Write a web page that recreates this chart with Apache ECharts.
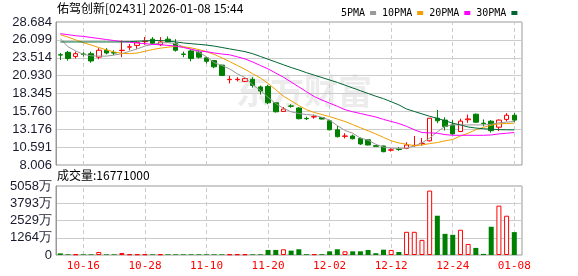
<!DOCTYPE html>
<html><head><meta charset="utf-8">
<script src="https://cdn.jsdelivr.net/npm/echarts@6/dist/echarts.min.js"></script>
<style>html,body{margin:0;padding:0;background:#fff}#c{width:578px;height:276px}</style>
</head><body><div id="c"></div>
<script>
const dates = ['10-13','10-14','10-15','10-16','10-17','10-20','10-21','10-22','10-23','10-24',
'10-27','10-28','10-30','10-31','11-03','11-04','11-05','11-06','11-07','11-10',
'11-11','11-12','11-13','11-14','11-17','11-18','11-19','11-20','11-21','11-24',
'11-25','11-26','11-27','11-28','12-01','12-02','12-03','12-04','12-05','12-08',
'12-09','12-10','12-11','12-12','12-15','12-16','12-17','12-18','12-19','12-22',
'12-23','12-24','12-29','12-30','12-31','01-02','01-05','01-06','01-07','01-08'];
const openP = [23.95,24.3,23.7,24.05,24.1,23.6,24.6,24.25,24.55,25.05,
25.3,25.85,26.2,25.4,26.2,25.6,24.05,24.5,24.3,23.5,
23.1,22.45,20.35,20.35,20.1,20.4,19.3,19.35,17.0,15.75,
16.55,16.25,14.75,14.95,14.86,14.4,13.1,12.15,12.2,11.85,
11.65,10.8,10.76,10.15,10.3,10.42,10.8,11.1,11.5,14.77,
14.5,13.8,12.85,14.55,15.35,14.05,14.34,13.47,14.6,15.2];
const closeP = [23.9,23.4,24.1,24.0,23.05,24.6,24.2,24.2,24.6,25.1,
25.7,25.9,25.6,25.8,25.8,24.6,24.0,23.4,23.6,23.0,
22.2,20.95,20.4,20.4,20.5,19.5,18.7,17.0,15.7,16.1,
16.5,14.7,14.7,15.0,14.65,13.1,12.1,12.2,11.8,11.05,
10.9,10.7,9.93,10.2,10.25,10.9,10.85,11.15,14.77,14.4,
13.56,12.5,14.35,14.67,14.2,14.0,12.97,14.5,15.2,14.5];
const lowP = [23.2,23.1,23.4,23.7,22.8,23.3,24.0,23.9,23.6,24.6,
24.8,25.4,25.4,25.2,25.7,24.4,23.6,23.0,23.4,22.7,
22.0,20.9,19.8,20.1,20.0,19.2,18.2,16.8,15.6,15.75,
16.3,14.6,14.5,14.7,14.6,13.0,12.0,11.85,11.7,10.9,
10.85,10.7,9.85,9.95,10.05,10.3,10.65,10.8,11.4,14.05,
13.0,12.4,12.8,14.1,14.1,13.6,12.7,12.9,14.3,14.2];
const highP = [24.2,24.5,24.4,24.3,24.4,24.9,24.9,24.6,26.0,25.5,
25.9,26.5,26.5,26.5,26.6,26.2,24.4,24.7,24.6,23.6,
23.2,22.5,20.9,20.7,20.6,20.7,19.5,19.6,17.0,16.4,
16.8,16.35,15.0,15.3,14.95,14.5,13.65,12.6,12.4,12.0,
11.7,10.8,10.8,10.45,10.6,11.3,12.2,11.9,14.8,15.97,
14.9,14.5,14.7,15.3,15.45,14.6,14.5,14.6,15.5,15.5];
// volume in 万
const volume = [120,50,50,50,50,220,50,50,150,50,
50,50,50,50,50,50,50,50,50,50,
50,50,50,50,50,50,50,370,370,420,
320,420,60,60,60,270,420,270,270,270,
370,130,390,370,220,1700,1700,1110,4720,2880,
1550,1480,1850,810,520,80,2070,3620,2880,1677.1];
const ma5 = [26.3,25.1,24.5,24.0,23.8,23.75,23.75,23.9,24.1,24.45,
24.8,25.2,25.45,25.65,25.7,25.55,25.1,24.75,24.3,23.65,
22.8,22.4,21.9,21.2,20.65,19.6,18.8,17.8,16.9,16.2,
15.7,15.45,15.3,15.2,14.9,14.5,13.7,13.0,12.6,11.9,
11.6,11.0,10.6,10.45,10.4,10.45,10.75,11.2,11.9,12.8,
13.6,13.8,13.8,13.8,13.8,13.8,13.9,14.1,14.2,14.3];
const ma10 = [26.85,26.5,26.1,25.7,25.35,25.0,24.65,24.35,24.15,24.1,
24.2,24.45,24.7,24.9,25.05,25.15,25.1,24.95,24.7,24.4,
24.0,23.5,22.97,22.4,21.85,21.2,20.6,19.8,18.9,17.95,
17.3,16.6,16.0,15.6,15.3,15.0,14.65,14.3,13.85,13.4,
12.95,12.5,12.0,11.5,11.2,11.0,10.8,10.9,11.1,11.25,
11.5,11.7,12.2,12.6,13.1,13.45,13.75,13.95,14.0,14.05];
const ma20 = [27.0,26.85,26.7,26.6,26.45,26.3,26.15,26.0,25.85,25.75,
25.65,25.55,25.45,25.4,25.3,25.2,25.0,24.75,24.5,24.4,
24.2,24.05,23.94,23.65,23.35,22.9,22.4,21.9,21.3,20.7,
20.0,19.3,18.6,17.9,17.4,16.95,16.5,16.0,15.7,15.45,
15.2,14.95,14.6,14.3,14.0,13.6,13.1,12.7,12.65,12.6,
12.4,12.3,12.3,12.3,12.3,12.3,12.35,12.5,12.6,12.7];
const ma30 = [25.8,25.8,25.8,25.8,25.8,25.8,25.8,25.8,25.8,25.85,
25.9,25.95,26.0,26.0,25.95,25.8,25.65,25.55,25.45,25.35,
25.2,25.0,24.8,24.6,24.4,24.1,23.7,23.3,22.9,22.5,
22.1,21.75,21.35,21.0,20.65,20.3,19.95,19.55,19.15,18.75,
18.35,17.95,17.6,17.15,16.7,16.1,15.75,15.4,15.05,14.75,
14.4,14.05,13.8,13.5,13.35,13.25,13.18,13.12,13.1,13.08];
const priceMin = 8.006, priceMax = 28.684;
const priceLabels = ['8.006','10.591','13.176','15.760','18.345','20.930','23.514','26.099','28.684'];
const volMax = 5058;
const volLabels = ['0','1264万','2529万','3793万','5058万'];
const labelDates = ['10-16','10-28','11-10','11-20','12-02','12-12','12-24','01-08'];
const titleText = '佑驾创新[02431] 2026-01-08 15:44';
const volText = '成交量:16771000';

const RED = '#ff0000', GREEN = '#008000';
const priceStep = (priceMax - priceMin) / (priceLabels.length - 1);
const volStep = volMax / (volLabels.length - 1);

const candleData = openP.map((o, i) => [o, closeP[i], lowP[i], highP[i]]);
const isUp = i => closeP[i] > openP[i] || (closeP[i] === openP[i] && (i === 0 || closeP[i] >= closeP[i-1]));
const volData = volume.map((v, i) => ({
  value: v,
  itemStyle: isUp(i) ? {color: '#fff', borderColor: RED, borderWidth: 1} : {color: GREEN}
}));
const vLines = labelDates.map(d => ({xAxis: d}));
const dashStyle = {color: '#cccccc', type: [4, 3], width: 1};
const monoFont = 'DejaVu Sans Mono';

const GA = {left: 56, top: 22, width: 466, height: 143};
const GV = {left: 56, top: 186, width: 466, height: 69};
const candleLeft = 56.45, candleWidth = 461.7;

const chart = echarts.init(document.getElementById('c'), null, {renderer: 'canvas'});
chart.setOption({
  animation: false,
  backgroundColor: '#fff',
  legend: {
    left: 336, top: 3, align: 'right', icon: 'rect', itemWidth: 6, itemHeight: 4, itemGap: 6,
    selectedMode: false,
    textStyle: {fontFamily: monoFont, fontSize: 10, color: '#000'},
    data: ['5PMA', '10PMA', '20PMA', '30PMA']
  },
  graphic: [
    {type: 'text', left: 57, top: 2, z: 10, style: {text: titleText, fontFamily: 'Noto Sans CJK SC', fontSize: 12, fill: '#000'}},
    {type: 'text', left: 57, top: 169, z: 10, style: {text: volText, fontFamily: 'Noto Sans CJK SC', fontSize: 12, fill: '#000'}},
    {type: 'text', left: 236, top: 74, z: 0, style: {text: '东方财富', fontFamily: 'Noto Sans CJK SC', fontWeight: 'bold', fontSize: 34, fill: '#ececec'}}
  ],
  grid: [
    Object.assign({show: true, borderColor: '#999', borderWidth: 1, backgroundColor: 'transparent'}, GA),
    {left: candleLeft, top: GA.top, width: candleWidth, height: GA.height},
    Object.assign({show: true, borderColor: '#999', borderWidth: 1, backgroundColor: 'transparent'}, GV),
    {left: candleLeft, top: GV.top, width: candleWidth, height: GV.height}
  ],
  xAxis: [
    {gridIndex: 0, type: 'value', min: 0, max: 1, show: false},
    {gridIndex: 1, type: 'category', data: dates, boundaryGap: true, show: false},
    {gridIndex: 2, type: 'value', min: 0, max: 1, show: false},
    {gridIndex: 3, type: 'category', data: dates, boundaryGap: true,
     axisLine: {show: false}, axisTick: {show: false}, splitLine: {show: false},
     axisLabel: {show: true, color: RED, fontFamily: monoFont, fontSize: 11, margin: 6,
       interval: (idx, val) => labelDates.indexOf(val) >= 0}}
  ],
  yAxis: [
    {gridIndex: 0, type: 'value', min: priceMin, max: priceMax, interval: priceStep,
     axisLine: {show: true, lineStyle: {color: '#999'}}, axisTick: {show: false},
     splitLine: {show: true, lineStyle: {color: '#cccccc', width: 1}},
     axisLabel: {color: '#1a1a2e', fontFamily: 'Liberation Sans', fontSize: 13, margin: 4,
       formatter: v => priceLabels[Math.round((v - priceMin) / priceStep)] || ''}},
    {gridIndex: 1, type: 'value', min: priceMin, max: priceMax, show: false, splitLine: {show: false}},
    {gridIndex: 2, type: 'value', min: 0, max: volMax, interval: volStep,
     axisLine: {show: true, lineStyle: {color: '#999'}}, axisTick: {show: false},
     splitLine: {show: true, lineStyle: {color: '#cccccc', width: 1}},
     axisLabel: {color: '#1a1a2e', fontFamily: 'Liberation Sans', fontSize: 13, margin: 4,
       formatter: v => volLabels[Math.round(v / volStep)] || ''}},
    {gridIndex: 3, type: 'value', min: 0, max: volMax, show: false, splitLine: {show: false}}
  ],
  series: [
    {type: 'candlestick', name: 'K', xAxisIndex: 1, yAxisIndex: 1, data: candleData, barWidth: 5,
     itemStyle: {color: '#fff', color0: GREEN, borderColor: RED, borderColor0: GREEN, borderWidth: 1},
     markLine: {silent: true, symbol: ['none', 'none'], z: 1, label: {show: false}, lineStyle: dashStyle,
       emphasis: {disabled: true}, data: vLines}},
    {type: 'line', name: '5PMA', xAxisIndex: 1, yAxisIndex: 1, data: ma5, symbol: 'none', silent: true,
     color: '#999999', lineStyle: {width: 1, color: '#999999'}},
    {type: 'line', name: '10PMA', xAxisIndex: 1, yAxisIndex: 1, data: ma10, symbol: 'none', silent: true,
     color: '#f0a000', lineStyle: {width: 1, color: '#f0a000'}},
    {type: 'line', name: '20PMA', xAxisIndex: 1, yAxisIndex: 1, data: ma20, symbol: 'none', silent: true,
     color: '#ff00ff', lineStyle: {width: 1, color: '#ff00ff'}},
    {type: 'line', name: '30PMA', xAxisIndex: 1, yAxisIndex: 1, data: ma30, symbol: 'none', silent: true,
     color: '#006633', lineStyle: {width: 1, color: '#006633'}},
    {type: 'bar', name: 'VOL', xAxisIndex: 3, yAxisIndex: 3, data: volData, barWidth: 5,
     markLine: {silent: true, symbol: ['none', 'none'], z: 1, label: {show: false}, lineStyle: dashStyle,
       emphasis: {disabled: true}, data: vLines}}
  ]
});
</script></body></html>
